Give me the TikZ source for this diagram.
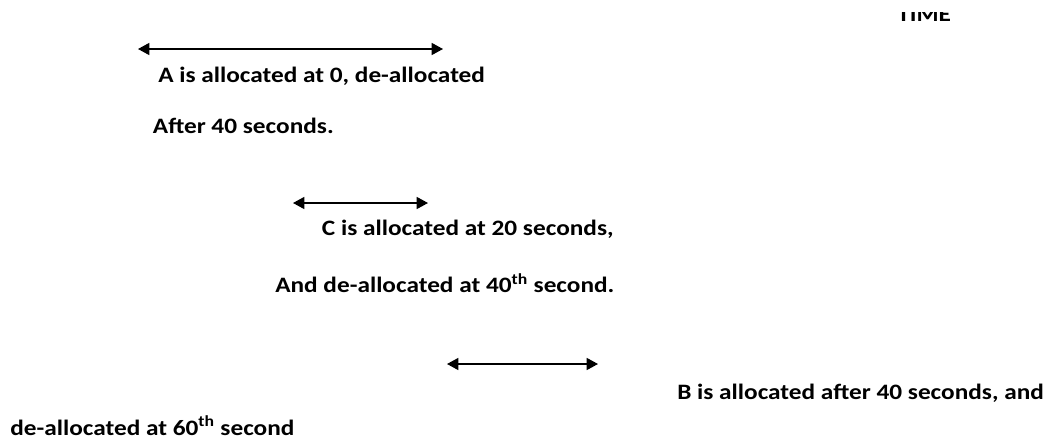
\documentclass[tikz,border=0pt]{standalone}
\usepackage{fontspec}
\setmainfont{Carlito}[FakeStretch=1.15]
\usetikzlibrary{arrows.meta}
\tikzset{
  lbl/.style={anchor=base west, inner sep=0pt, font=\fontsize{16.5}{19}\selectfont\bfseries, text=black},
  span/.style={{Triangle[length=8.5pt,width=9pt]}-{Triangle[length=8.5pt,width=9pt]}, line width=1.1pt, black}
}
\begin{document}
\begin{tikzpicture}[x=0.75pt,y=-0.75pt]
\useasboundingbox (0,0) rectangle (1050,443);
\begin{scope}
\clip (0,12) rectangle (1050,443);
\node[lbl] (time) at (897,21.7) {TIME};
\end{scope}
\coordinate (a1) at (138,49);
\coordinate (a2) at (443,49);
\draw[span] (a1) -- (a2);
\node[lbl] (ta) at (158,82) {A is allocated at 0, de-allocated};
\node[lbl] (tafter) at (152.7,133) {After 40 seconds.};
\coordinate (c1) at (293,203);
\coordinate (c2) at (428,203);
\draw[span] (c1) -- (c2);
\node[lbl] (tc) at (321.7,235) {C is allocated at 20 seconds,};
\node[lbl] (tand) at (275,292.5) {And de-allocated at 40\textsuperscript{th} second.};
\coordinate (b1) at (447,364);
\coordinate (b2) at (598,364);
\draw[span] (b1) -- (b2);
\node[lbl] (tb) at (677,399.5) {B is allocated after 40 seconds, and};
\node[lbl] (tde) at (10,435) {de-allocated at 60\textsuperscript{th} second};
\end{tikzpicture}
\end{document}
